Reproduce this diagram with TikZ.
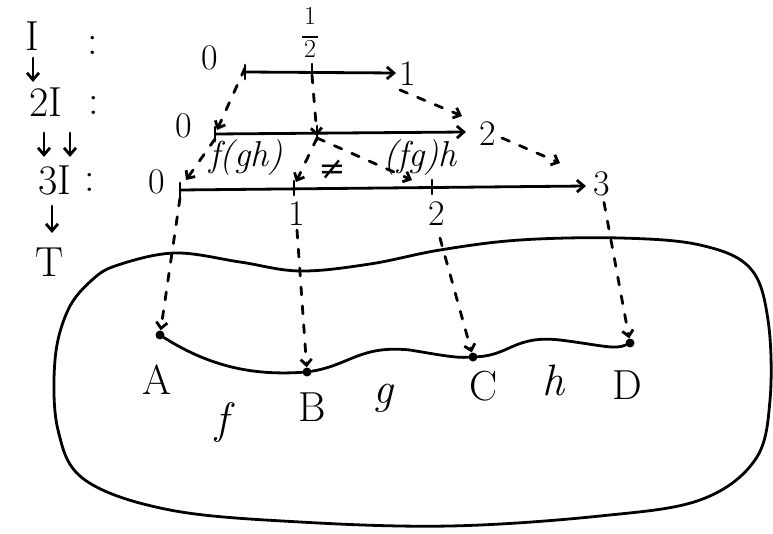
\documentclass[tikz,border=0pt]{standalone}
\usepackage{fontspec}
\newfontfamily\djv{DejaVu Serif}
\usetikzlibrary{arrows.meta}
\begin{document}
\begin{tikzpicture}[x=1pt,y=-1pt,
  ink/.style={line width=2.8pt, line cap=round, line join=round},
  dsh/.style={ink, dash pattern=on 8pt off 11pt, -{Straight Barb[length=6pt,width=11pt]}},
  arr/.style={ink, -{Straight Barb[length=7pt,width=12pt]}},
  big/.style={font=\fontsize{42}{42}\selectfont, inner sep=0pt},
  ital/.style={font=\fontsize{44}{44}\selectfont\itshape, inner sep=0pt},
  mid/.style={font=\fontsize{36}{36}\selectfont\itshape, inner sep=0pt},
  sml/.style={font=\fontsize{36}{36}\selectfont, inner sep=0pt},
  dot/.style={circle, fill, inner sep=0pt, minimum size=9pt},
  tick/.style={ink}]
\useasboundingbox (0,0) rectangle (773,534);
% left column
\node[big] (I1) at (32,36) {I};
\node[big] (c1) at (93,45) {:};
\node[big] (I2) at (46,102) {2I};
\node[big] (c2) at (94,105) {:};
\node[big] (I3) at (55,180) {3I};
\node[big] (c3) at (90,182) {:};
\node[big] (T) at (50,262) {T};
\draw[arr] (33,58) coordinate (a1s) -- (33,82) coordinate (a1e);
\draw[arr] (44,133) coordinate (a2s) -- (44,157) coordinate (a2e);
\draw[arr] (70,133) coordinate (a3s) -- (70,157) coordinate (a3e);
\draw[arr] (52,206) coordinate (a4s) -- (52,233) coordinate (a4e);
% row 1
\node[sml] (z1) at (210,58) {0};
\node[font=\fontsize{26}{26}\selectfont, inner sep=0pt, align=center] (half) at (310,32) {1\\[-12pt]\rule{16pt}{2.4pt}\\[-7pt]2};
\node[sml] (o1) at (408,74) {1};
\coordinate (r1a) at (245,72);
\coordinate (r1m) at (312,71);
\coordinate (r1b) at (396,73);
\draw[arr] (r1a) -- (r1b);
\draw[tick] ([yshift=7pt]r1a) -- ([yshift=-7pt]r1a);
\draw[tick] ([yshift=7pt]r1m) -- ([yshift=-7pt]r1m);
% row 2
\node[sml] (z2) at (184,126) {0};
\node[sml] (t2) at (488,134) {2};
\coordinate (r2a) at (215,134);
\coordinate (r2m) at (317,133);
\coordinate (r2b) at (466,132);
\draw[arr] (r2a) -- (r2b);
\draw[tick] ([yshift=7pt]r2a) -- ([yshift=-7pt]r2a);
\draw[tick] ([yshift=7pt]r2m) -- ([yshift=-7pt]r2m);
% row 3
\node[sml] (z3) at (157,182) {0};
\node[sml] (th3) at (602,184) {3};
\coordinate (r3a) at (180,190);
\coordinate (r3m) at (294,188);
\coordinate (r3n) at (432,187);
\coordinate (r3b) at (586,186);
\draw[arr] (r3a) -- (r3b);
\draw[tick] ([yshift=7pt]r3a) -- ([yshift=-7pt]r3a);
\draw[tick] ([yshift=7pt]r3m) -- ([yshift=-7pt]r3m);
\draw[tick] ([yshift=7pt]r3n) -- ([yshift=-7pt]r3n);
\node[sml] (l1) at (297,214) {1};
\node[sml] (l2) at (437,214) {2};
% formulas
\node[mid] (fgh) at (246,158) {f(gh)};
\node[mid, font=\fontsize{32}{32}\selectfont\djv] (neq) at (332,170) {≠};
\node[mid] (fg) at (420,158) {(fg)h};
% dashed maps row1 -> row2
\draw[dsh] ([shift={(0,-4)}]r1a) -- ([shift={(2,-4)}]r2a);
\draw[dsh] ([yshift=-4pt]r1m) -- ([yshift=-3pt]r2m);
\draw[dsh] (400,90) coordinate (d3s) -- (462,116);
% dashed maps row2 -> row3
\draw[dsh] ([yshift=-5pt]r2a) -- (186,180);
\draw[dsh] ([yshift=-5pt]r2m) -- (296,182);
\draw[dsh] ([yshift=-5pt]r2m) -- (412,180);
\draw[dsh] (502,138) coordinate (d7s) -- (560,163);
% blob T
\draw[ink] plot[smooth cycle, tension=0.6] coordinates {
 (118,265) (175,253) (240,262) (300,271) (370,264) (440,250) (520,240)
 (620,238) (700,245) (750,268) (768,320) (770,400) (755,460) (700,500)
 (600,516) (450,526) (300,522) (170,510) (85,480) (58,430) (55,360)
 (68,310) (92,280)};
% path A-B-C-D
\node[dot] (A) at (160,335) {};
\node[dot] (B) at (307,372) {};
\node[dot] (C) at (473,357) {};
\node[dot] (D) at (630,343) {};
\draw[ink] (A) .. controls (215,370) and (260,375) .. (B)
           .. controls (350,365) and (360,345) .. (410,350)
           .. controls (440,355) and (455,358) .. (C)
           .. controls (510,355) and (515,335) .. (560,340)
           .. controls (600,345) and (615,350) .. (D);
\node[big] (lA) at (157,380) {A};
\node[ital] (lf) at (222,422) {f};
\node[big] (lB) at (312,407) {B};
\node[ital] (lg) at (383,398) {g};
\node[big] (lC) at (484,386) {C};
\node[ital] (lh) at (553,380) {h};
\node[big] (lD) at (627,385) {D};
% dashed maps row3 -> T
\draw[dsh] ([yshift=-8pt]r3a) -- ([yshift=8pt]A);
\draw[dsh] (l1.south) ++(0,4) -- ([yshift=8pt]B);
\draw[dsh] (l2.south) ++(3,12) -- ([yshift=8pt]C);
\draw[dsh] (th3.south) ++(2,6) -- ([yshift=8pt]D);
\end{tikzpicture}
\end{document}
